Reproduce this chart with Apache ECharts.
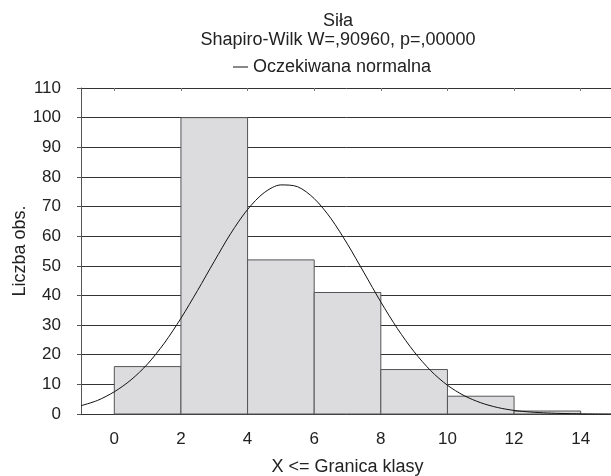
<!DOCTYPE html>
<html>
<head>
<meta charset="utf-8" />
<title>Siła</title>
<script src="https://cdn.jsdelivr.net/npm/echarts@6/dist/echarts.min.js"></script>
<style>
  html, body { margin: 0; padding: 0; background: #fff; }
  #main { width: 611px; height: 476px; }
</style>
</head>
<body>
<div id="main"></div>
<script>
// histogram classes (lower bound, width 2) and counts
var binStart = [0, 2, 4, 6, 8, 10, 12];
var binWidth = 2;
var counts = [16, 100, 52, 41, 15, 6, 1];
var xTicks = [0, 2, 4, 6, 8, 10, 12, 14];

// expected normal curve
var curveX = [-1, -0.5, 0, 0.5, 1, 1.5, 2, 2.5, 3, 3.5, 4, 4.5, 5, 5.5, 6, 6.5, 7,
  7.5, 8, 8.5, 9, 9.5, 10, 10.5, 11, 11.5, 12, 12.5, 13, 13.5, 14, 15];
var curveY = [2.8, 4.6, 7.5, 11.5, 16.9, 23.9, 32.3, 41.7, 51.5, 61.0, 69.0, 74.7, 77.3,
  76.7, 72.7, 66.0, 57.3, 47.6, 37.8, 28.8, 21.0, 14.6, 9.7, 6.2, 3.8, 2.2, 1.2, 0.66,
  0.34, 0.16, 0.07, 0.01];

var bars = [];
for (var i = 0; i < binStart.length; i++) {
  bars.push([binStart[i], binStart[i] + binWidth, counts[i]]);
}
var curve = [];
for (var j = 0; j < curveX.length; j++) {
  curve.push([curveX[j], curveY[j]]);
}

var font = 'Liberation Sans, Arial, sans-serif';
var chart = echarts.init(document.getElementById('main'));
var option = {
  animation: false,
  title: [{
    text: 'Siła',
    left: 333,
    top: 7,
    textAlign: 'center',
    textStyle: { fontFamily: font, fontSize: 18, fontWeight: 'normal', color: '#222' }
  }, {
    text: 'Shapiro-Wilk W=,90960, p=,00000',
    left: 333,
    top: 26,
    textAlign: 'center',
    textStyle: { fontFamily: font, fontSize: 18, fontWeight: 'normal', color: '#222' }
  }],
  legend: {
    data: ['Oczekiwana normalna'],
    left: 228,
    top: 53,
    icon: 'rect',
    itemWidth: 15,
    itemHeight: 1,
    itemGap: 4,
    textStyle: { fontFamily: font, fontSize: 18, color: '#222', padding: [0, 0, 0, 0] }
  },
  grid: { left: 81, top: 88, width: 533, bottom: 62, containLabel: false, outerBoundsMode: 'none' },
  xAxis: [{
    type: 'value',
    min: -1,
    max: 15,
    name: 'X <= Granica klasy',
    nameLocation: 'middle',
    nameGap: 44,
    nameTextStyle: { fontFamily: font, fontSize: 18, color: '#222' },
    axisLine: { show: false },
    axisTick: { show: false },
    splitLine: { show: false },
    axisLabel: {
      customValues: xTicks,
      margin: 17,
      fontFamily: font,
      fontSize: 17,
      color: '#222'
    }
  }, {
    type: 'value',
    position: 'top',
    min: -1,
    max: 15,
    axisLine: { show: false },
    axisLabel: { show: false },
    splitLine: { show: false },
    axisTick: {
      show: true,
      inside: true,
      length: 3,
      customValues: xTicks,
      lineStyle: { color: '#777' }
    }
  }],
  yAxis: {
    type: 'value',
    min: 0,
    max: 110,
    interval: 10,
    name: 'Liczba obs.',
    nameLocation: 'middle',
    nameGap: 52,
    nameMoveOverlap: false,
    nameTextStyle: { fontFamily: font, fontSize: 18, color: '#222' },
    axisLine: { show: true, onZero: false, lineStyle: { color: '#555' } },
    axisTick: { show: true, length: 4, lineStyle: { color: '#555' } },
    axisLabel: { margin: 20, fontFamily: font, fontSize: 17, color: '#222' },
    splitLine: { show: true, lineStyle: { color: '#333', width: 1 } }
  },
  series: [{
    type: 'custom',
    name: 'Histogram',
    z: 3,
    data: bars,
    renderItem: function (params, api) {
      var p0 = api.coord([api.value(0), api.value(2)]);
      var p1 = api.coord([api.value(1), 0]);
      return {
        type: 'rect',
        shape: { x: p0[0], y: p0[1], width: p1[0] - p0[0], height: p1[1] - p0[1] },
        style: { fill: '#dcdcdf', stroke: '#555', lineWidth: 1 }
      };
    }
  }, {
    type: 'line',
    name: 'Oczekiwana normalna',
    z: 5,
    data: curve,
    smooth: 0.3,
    showSymbol: false,
    symbol: 'none',
    clip: true,
    color: '#111',
    lineStyle: { color: '#111', width: 1 }
  }]
};
chart.setOption(option);
</script>
</body>
</html>
